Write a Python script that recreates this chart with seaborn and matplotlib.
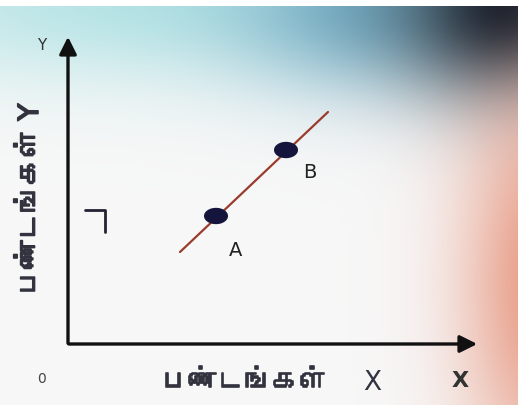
import numpy as np
import pandas as pd
import matplotlib
matplotlib.use('Agg')
import matplotlib.pyplot as plt
import matplotlib.patheffects as pe
from matplotlib.path import Path
import seaborn as sns
from matplotlib import font_manager
from matplotlib.ft2font import FT2Font

# line through the two bundles
line_x = [2.8, 6.5]
line_y = [2.3, 5.8]
# points A and B
point_x = [3.7, 5.45]
point_y = [3.2, 4.85]
point_labels = ['A', 'B']
x_label = 'பண்டங்கள்'
y_label = 'பண்டங்கள் Y'

sns.set_theme(style='white')

# pick a font that has Tamil letters, if one is installed
tamil_font = None
for f in font_manager.fontManager.ttflist:
    try:
        if ord('ப') in FT2Font(f.fname).get_charmap():
            tamil_font = f.name
            break
    except Exception:
        pass
fams = ['DejaVu Sans'] + ([tamil_font] if tamil_font else [])
plt.rcParams['font.family'] = fams

fig = plt.figure(figsize=(5.18, 4.06), dpi=100)

# soft photo-like background
bg = fig.add_axes([0, 0, 1, 1])
h, w = 406, 518
yy, xx = np.mgrid[0:h, 0:w] / np.array([h, w])[:, None, None]
img = np.ones((h, w, 3)) * np.array([0.97, 0.97, 0.97])
def blob(cx, cy, sx, sy):
    return np.exp(-(((xx - cx) / sx) ** 2 + ((yy - cy) / sy) ** 2))
teal = blob(0.3, 0.0, 0.6, 0.2)
blue = blob(0.7, 0.02, 0.25, 0.2)
dark = blob(0.98, 0.02, 0.2, 0.22)
salmon = blob(1.05, 0.7, 0.16, 0.5)
for c, col, k in [(teal, (0.6, 0.86, 0.87), 0.7), (blue, (0.35, 0.6, 0.72), 0.7),
                  (dark, (0.04, 0.1, 0.16), 1.0), (salmon, (0.9, 0.55, 0.45), 0.85)]:
    a = (c * k)[..., None]
    img = img * (1 - a) + np.array(col) * a
img[:7] = 1.0
bg.imshow(np.clip(img, 0, 1), aspect='auto')
bg.axis('off')

ax = fig.add_axes([0, 0, 1, 1])
ax.patch.set_alpha(0)
ax.set_xlim(-1.7, 11.25)
ax.set_ylim(-1.525, 8.625)
ax.axis('off')

# axes with arrows
ax.annotate('', xy=(10.3, 0), xytext=(-0.05, 0),
            arrowprops=dict(arrowstyle='-|>', color='#111111', lw=2.4, mutation_scale=26))
ax.annotate('', xy=(0, 7.75), xytext=(0, -0.05),
            arrowprops=dict(arrowstyle='-|>', color='#111111', lw=2.4, mutation_scale=26))

# small right-angle mark
ax.plot([0.42, 0.92, 0.92], [3.35, 3.35, 2.8], color='#222233', lw=2)

# flat ellipse marker
t = np.linspace(0, 2 * np.pi, 40)
ellipse = Path(np.column_stack([np.cos(t), 0.68 * np.sin(t)]), closed=True)

sns.lineplot(x=line_x, y=line_y, ax=ax, color='#9a3b2c', lw=1.6)
sns.scatterplot(x=point_x, y=point_y, ax=ax, color='#14143c', s=300,
                marker=ellipse, edgecolor='none', zorder=5)
offsets = [(0.5, -0.85), (0.6, -0.55)]
for px, py, lab, (dx, dy) in zip(point_x, point_y, point_labels, offsets):
    ax.text(px + dx, py + dy, lab, fontsize=14, color='#222222', ha='center', va='center')

bold = [pe.withStroke(linewidth=1.2, foreground='#333340')]
ax.text(-0.65, 7.5, 'Y', fontsize=11, color='#333333', ha='center', va='center')
ax.text(-0.95, 3.6, y_label, fontsize=20, rotation=90, path_effects=bold,
        color='#333340', ha='center', va='center')
ax.text(-0.65, -0.85, '0', fontsize=10, color='#444444', ha='center', va='center')
ax.text(4.4, -0.95, x_label, fontsize=20, path_effects=bold,
        color='#333340', ha='center', va='center')
ax.text(7.6, -0.95, 'X', fontsize=19, color='#333340', ha='center', va='center')
ax.text(9.8, -0.9, 'X', fontsize=16, fontweight='bold', color='#333333', ha='center', va='center')

fig.savefig('out.png', dpi=100)
